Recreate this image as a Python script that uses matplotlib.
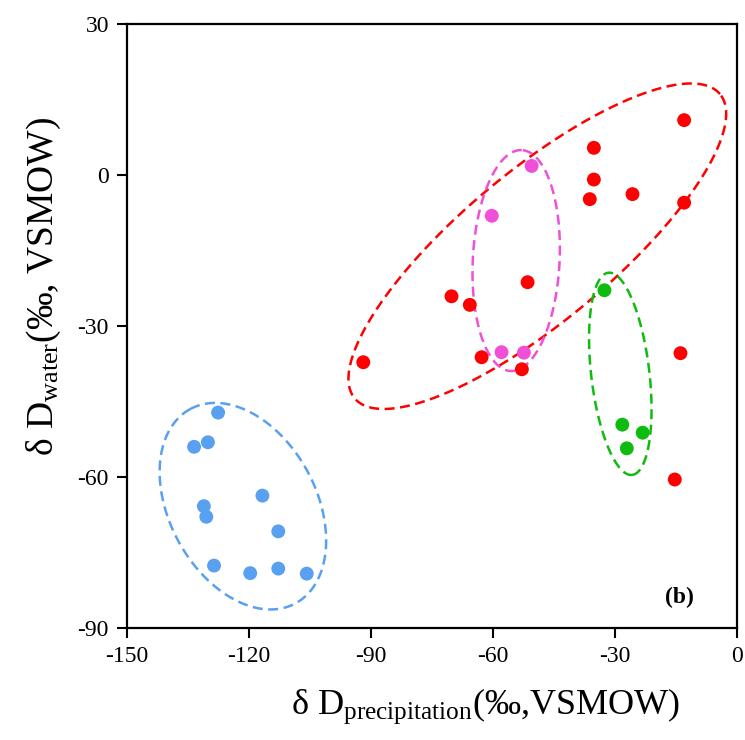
import numpy as np
import matplotlib
matplotlib.use("Agg")
import matplotlib.pyplot as plt

plt.rcParams['font.family'] = ['Liberation Serif', 'DejaVu Serif']
plt.rcParams['mathtext.fontset'] = 'custom'
plt.rcParams['mathtext.rm'] = 'Liberation Serif'
plt.rcParams['mathtext.it'] = 'Liberation Serif:italic'

# Data (delta D precipitation, delta D water)
blue_x = [-127.6, -133.5, -130.1, -116.7, -131.1, -130.5, -112.8, -128.6, -119.7, -112.8, -105.8]
blue_y = [-47.2, -54.0, -53.1, -63.7, -65.8, -67.9, -70.8, -77.6, -79.1, -78.2, -79.2]

red_x = [-91.9, -70.2, -65.7, -51.5, -62.8, -52.9, -13.0, -35.2, -35.2, -36.2, -25.7, -13.0, -13.9, -15.3]
red_y = [-37.2, -24.1, -25.8, -21.3, -36.2, -38.6, 10.9, 5.4, -0.9, -4.8, -3.8, -5.5, -35.4, -60.5]

magenta_x = [-50.5, -60.3, -57.9, -52.4]
magenta_y = [1.8, -8.1, -35.2, -35.3]

green_x = [-32.6, -28.2, -23.2, -27.1]
green_y = [-22.9, -49.6, -51.2, -54.3]

x_ticks = [-150, -120, -90, -60, -30, 0]
y_ticks = [-90, -60, -30, 0, 30]

# Ellipses: center (data), semi-axes (display px), angle (deg, display)
ellipses = [
    dict(c=(-121.5, -65.8), a=110.5, b=73.4, ang=118.4, color='#5aa0f0'),
    dict(c=(-49.1, -14.15), a=237.7, b=75.2, ang=39.8, color='#ff0000'),
    dict(c=(-54.3, -17.0), a=110.6, b=43.4, ang=87.1, color='#f050d8'),
    dict(c=(-28.7, -39.5), a=101.8, b=29.1, ang=-83.3, color='#10bb10'),
]

W, H = 745, 740
fig = plt.figure(figsize=(W / 100, H / 100), dpi=100)
ax = fig.add_axes([127 / W, 1 - 628 / H, 610 / W, 604 / H])
ax.set_xlim(-150, 0)
ax.set_ylim(-90, 30)

# pixel per data unit
sx = 610 / 150
sy = 604 / 120

t = np.linspace(0, 2 * np.pi, 400)
for e in ellipses:
    th = np.deg2rad(e['ang'])
    px = e['a'] * np.cos(t) * np.cos(th) - e['b'] * np.sin(t) * np.sin(th)
    py = e['a'] * np.cos(t) * np.sin(th) + e['b'] * np.sin(t) * np.cos(th)
    ax.plot(e['c'][0] + px / sx, e['c'][1] + py / sy, color=e['color'],
            lw=1.8, dashes=(4, 2.2), zorder=2)

ms = 100
ax.scatter(blue_x, blue_y, s=ms, color='#5aa0f0', edgecolors='none', zorder=3)
ax.scatter(red_x, red_y, s=ms, color='#ff0000', edgecolors='none', zorder=3)
ax.scatter(magenta_x, magenta_y, s=ms, color='#f050d8', edgecolors='none', zorder=4)
ax.scatter(green_x, green_y, s=ms, color='#10bb10', edgecolors='none', zorder=3)

ax.set_xticks(x_ticks)
ax.set_yticks(y_ticks)
ax.set_xticklabels([str(v) for v in x_ticks])
ax.set_yticklabels([str(v) for v in y_ticks])
ax.tick_params(direction='out', length=7, width=1.5, labelsize=17, pad=6)
for s in ax.spines.values():
    s.set_linewidth(1.6)

ax.set_xlabel('δ D$_{\\mathrm{precipitation}}$(‰,VSMOW)', fontsize=26)
ax.set_ylabel('δ D$_{\\mathrm{water}}$(‰, VSMOW)', fontsize=27)
ax.xaxis.set_label_coords(0.588, -0.097, transform=ax.transAxes)
ax.xaxis.label.set_va('top')
ax.yaxis.set_label_coords(-0.137, 0.565, transform=ax.transAxes)
ax.yaxis.label.set_va('center')

ax.text(0.905, 0.05, '(b)', transform=ax.transAxes, fontsize=17,
        fontweight='bold', ha='center', va='center')

fig.savefig('out.png', dpi=100)
